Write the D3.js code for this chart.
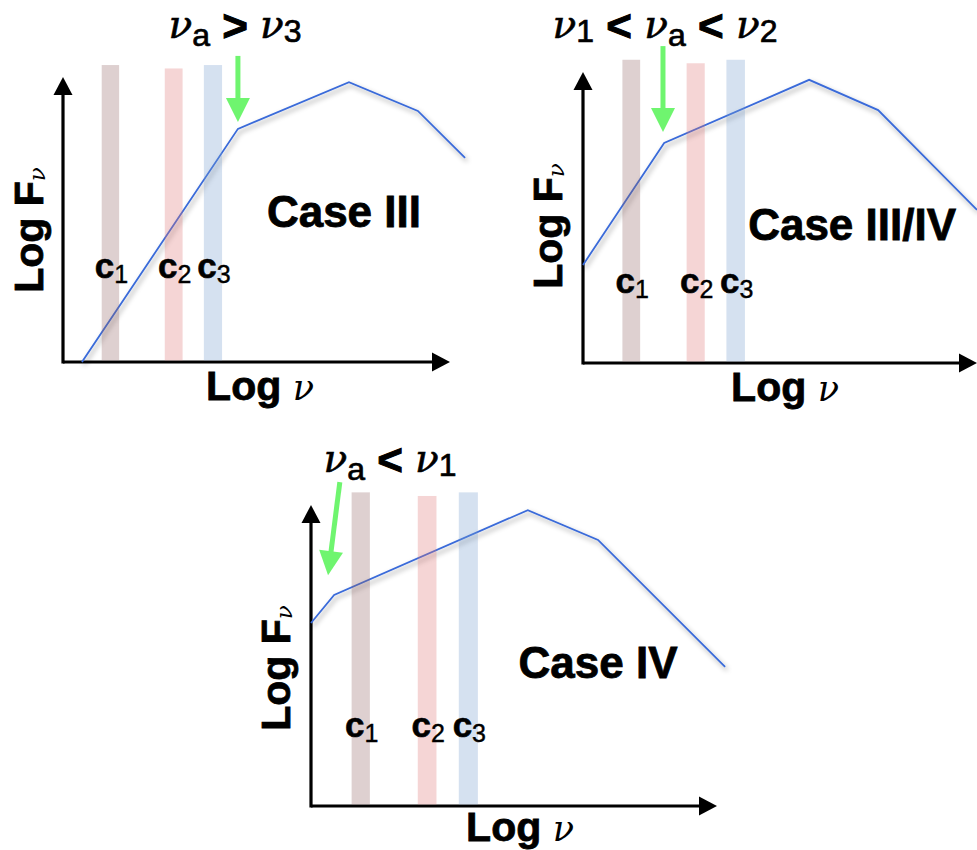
<!DOCTYPE html>
<html>
<head>
<meta charset="utf-8">
<script src="https://cdn.jsdelivr.net/npm/d3@7/dist/d3.min.js"></script>
<style>
  html, body { margin: 0; padding: 0; background: #fff; }
  svg { display: block; }
</style>
</head>
<body>
<svg id="chart" width="977" height="850"></svg>
<script>
// ---------------- DATA ----------------
const caseNames = ["Case III", "Case III/IV", "Case IV"];
const bandLabels = ["c", "c", "c"];
const bandSubs = ["1", "2", "3"];
const bandLo = [1.0, 2.63, 3.64];
const bandHi = [1.45, 3.09, 4.11];
const bandTop = [10.42, 10.3, 10.42];
const bandColors = ["rgba(145,98,98,0.3)", "rgba(222,115,115,0.3)", "rgba(115,155,205,0.3)"];

// spectrum break points (log nu, log F) for each panel
const spectrumX = [
  [0.49, 4.52, 7.39, 9.17, 10.39],
  [0.0, 2.06, 5.74, 7.49, 10.0],
  [0.0, 0.57, 5.34, 7.07, 10.2]
];
const spectrumY = [
  [0.0, 8.18, 9.82, 8.81, 7.16],
  [3.37, 7.56, 9.73, 8.69, 5.26],
  [6.08, 7.01, 9.83, 8.84, 4.62]
];
// green arrow (from -> to), data units
const arrowFromX = [4.52, 2.03, 0.71];
const arrowFromY = [10.74, 10.89, 10.76];
const arrowToX = [4.52, 2.03, 0.42];
const arrowToY = [8.42, 7.94, 7.67];
// label baselines (log F units)
const labelY = [2.95, 2.41, 2.29];
const caseX = [7.26, 6.83, 7.07];
const caseY = [4.74, 4.23, 4.25];
// titles: [text, kind]
const titles = [
  [["ν", "nu"], ["a", "sub"], [" > ", "op"], ["ν", "nu"], ["3", "sub"]],
  [["ν", "nu"], ["1", "sub"], [" < ", "op"], ["ν", "nu"], ["a", "sub"], [" < ", "op"], ["ν", "nu"], ["2", "sub"]],
  [["ν", "nu"], ["a", "sub"], [" < ", "op"], ["ν", "nu"], ["1", "sub"]]
];

// ---------------- LAYOUT ----------------
const frames = [
  { x0: 63, y0: 362, x1: 450, y1: 77, titleX: 235, titleY: 38, yLabX: 43, yLabY: 230, xLabX: 260, xLabY: 400 },
  { x0: 583, y0: 363, x1: 977, y1: 72, titleX: 665, titleY: 38, yLabX: 562, yLabY: 226, xLabX: 785, xLabY: 401 },
  { x0: 311, y0: 806, x1: 717, y1: 505, titleX: 390, titleY: 472, yLabX: 290, yLabY: 668, xLabX: 520, xLabY: 841 }
];

const svg = d3.select("#chart");
const defs = svg.append("defs");
const f = defs.append("filter").attr("id", "shadow").attr("x", "-10%").attr("y", "-10%").attr("width", "130%").attr("height", "130%");
f.append("feDropShadow").attr("dx", 2).attr("dy", 3).attr("stdDeviation", 2.4)
  .attr("flood-color", "#000").attr("flood-opacity", 0.4);

const SANS = "'Liberation Sans', Arial, Helvetica, sans-serif";
const SERIF = "'DejaVu Serif', 'Liberation Serif', serif";
const GREEN = "#6ff56f";
const LINE = "#3a6bd9";

frames.forEach((fr, p) => {
  const g = svg.append("g");
  const x = d3.scaleLinear().domain([0, 10]).range([fr.x0, fr.x1]);
  const y = d3.scaleLinear().domain([0, 10]).range([fr.y0, fr.y1]);

  // axes
  const head = 18, hw = 9.5;
  g.append("line").attr("x1", fr.x0).attr("y1", fr.y0).attr("x2", fr.x1 - head + 2).attr("y2", fr.y0)
    .attr("stroke", "#000").attr("stroke-width", 3.2);
  g.append("line").attr("x1", fr.x0).attr("y1", fr.y0 + 1.6).attr("x2", fr.x0).attr("y2", fr.y1 + head - 2)
    .attr("stroke", "#000").attr("stroke-width", 3.2);
  g.append("path").attr("d", `M${fr.x1},${fr.y0} L${fr.x1 - head},${fr.y0 - hw} L${fr.x1 - head},${fr.y0 + hw} Z`).attr("fill", "#000");
  g.append("path").attr("d", `M${fr.x0},${fr.y1} L${fr.x0 - hw},${fr.y1 + head} L${fr.x0 + hw},${fr.y1 + head} Z`).attr("fill", "#000");

  // spectrum line
  const pts = spectrumX[p].map((v, i) => [v, spectrumY[p][i]]);
  g.append("path").datum(pts)
    .attr("d", d3.line().x(d => x(d[0])).y(d => y(d[1])))
    .attr("fill", "none").attr("stroke", LINE).attr("stroke-width", 1.8)
    .attr("filter", "url(#shadow)");

  // bands
  g.selectAll("rect.band").data(bandLo).join("rect").attr("class", "band")
    .attr("x", (d, i) => x(d))
    .attr("width", (d, i) => x(bandHi[i]) - x(d))
    .attr("y", (d, i) => y(bandTop[i]))
    .attr("height", (d, i) => y(0) - y(bandTop[i]) - 1.5)
    .attr("fill", (d, i) => bandColors[i]);

  // band labels
  bandLo.forEach((lo, i) => {
    const t = g.append("text").attr("x", x((lo + bandHi[i]) / 2) + 1).attr("y", y(labelY[p]))
      .attr("text-anchor", "middle").attr("font-family", SANS).attr("fill", "#000");
    t.append("tspan").attr("font-size", 35).attr("font-weight", "bold")
      .attr("stroke", "#000").attr("stroke-width", 0.6).text(bandLabels[i]);
    t.append("tspan").attr("font-size", 25).attr("dy", 5).attr("stroke", "#000").attr("stroke-width", 0.4).text(bandSubs[i]);
  });

  // case label
  g.append("text").attr("x", x(caseX[p])).attr("y", y(caseY[p])).attr("text-anchor", "middle")
    .attr("font-family", SANS).attr("font-weight", "bold").attr("font-size", 44)
    .attr("stroke", "#000").attr("stroke-width", 0.8).text(caseNames[p]);

  // green arrow
  const ax1 = x(arrowFromX[p]), ay1 = y(arrowFromY[p]), ax2 = x(arrowToX[p]), ay2 = y(arrowToY[p]);
  const L = Math.hypot(ax2 - ax1, ay2 - ay1), ux = (ax2 - ax1) / L, uy = (ay2 - ay1) / L;
  const ah = 24, aw = 12;
  const bx = ax2 - ux * ah, by = ay2 - uy * ah;
  g.append("line").attr("x1", ax1).attr("y1", ay1).attr("x2", bx + ux * 2).attr("y2", by + uy * 2)
    .attr("stroke", GREEN).attr("stroke-width", 5);
  g.append("path").attr("d", `M${ax2},${ay2} L${bx - uy * aw},${by + ux * aw} L${bx + uy * aw},${by - ux * aw} Z`)
    .attr("fill", GREEN);

  // title
  const tt = g.append("text").attr("x", fr.titleX).attr("y", fr.titleY).attr("text-anchor", "middle")
    .attr("fill", "#000").style("white-space", "pre");
  let cur = 0;
  titles[p].forEach(([s, kind]) => {
    const sp = tt.append("tspan").text(s);
    let target = 0;
    if (kind === "nu") {
      sp.attr("font-family", SERIF).attr("font-style", "italic").attr("font-size", 39)
        .attr("stroke", "#000").attr("stroke-width", 0.6);
      target = 0;
    } else if (kind === "sub") {
      sp.attr("font-family", SANS).attr("font-size", 32).attr("stroke", "#000").attr("stroke-width", 0.7);
      target = (s === "a" ? 8 : 4);
    } else {
      sp.attr("font-family", SANS).attr("font-weight", "bold").attr("font-size", 44)
        .attr("stroke", "#000").attr("stroke-width", 1);
      target = 3;
    }
    sp.attr("dy", target - cur); cur = target;
  });

  // y label
  const yl = g.append("text").attr("transform", `translate(${fr.yLabX},${fr.yLabY}) rotate(-90)`)
    .attr("text-anchor", "middle").attr("fill", "#000");
  yl.append("tspan").attr("font-family", SANS).attr("font-weight", "bold").attr("font-size", 41)
    .attr("stroke", "#000").attr("stroke-width", 0.8).text("Log F");
  yl.append("tspan").attr("font-family", SERIF).attr("font-style", "italic").attr("font-size", 23).attr("dy", 2).text("ν");

  // x label
  const xl = g.append("text").attr("x", fr.xLabX).attr("y", fr.xLabY).attr("text-anchor", "middle").attr("fill", "#000")
    .style("white-space", "pre");
  xl.append("tspan").attr("font-family", SANS).attr("font-weight", "bold").attr("font-size", 41)
    .attr("stroke", "#000").attr("stroke-width", 0.8).text("Log ");
  xl.append("tspan").attr("font-family", SERIF).attr("font-style", "italic").attr("font-size", 35).text("ν");
});
</script>
</body>
</html>
